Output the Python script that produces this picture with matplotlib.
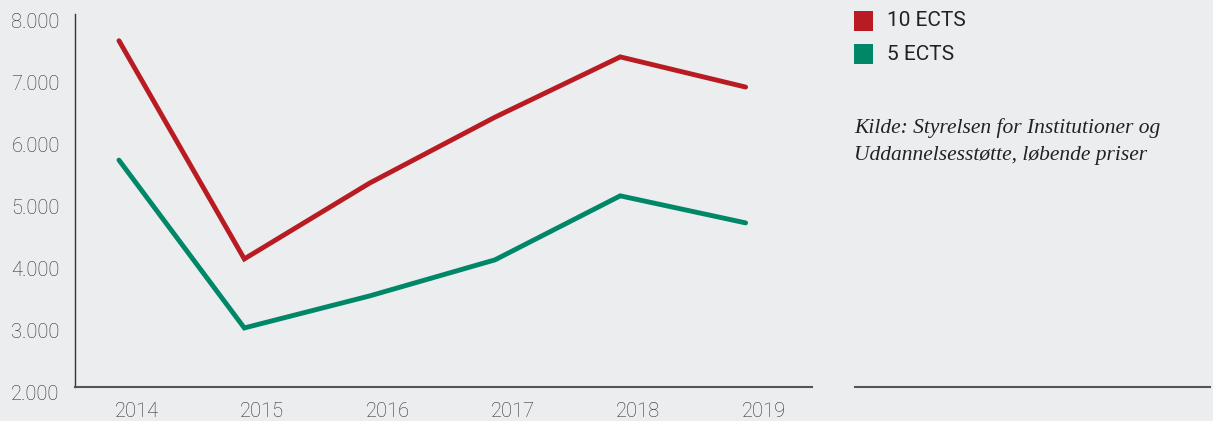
import matplotlib
matplotlib.use("Agg")
import matplotlib.pyplot as plt
import matplotlib.transforms as mtransforms
from matplotlib.lines import Line2D
from matplotlib.patches import Rectangle

years = ["2014", "2015", "2016", "2017", "2018", "2019"]
ects10 = [7570, 4060, 5280, 6340, 7310, 6825]
ects5 = [5650, 2950, 3465, 4045, 5075, 4640]
series_labels = ["10 ECTS", "5 ECTS"]
yticks = [2000, 3000, 4000, 5000, 6000, 7000, 8000]
source = "Kilde: Styrelsen for Institutioner og\nUddannelsesstøtte, løbende priser"

C_BG = "#ECEDEF"
C_RED = "#B81C22"
C_GREEN = "#008768"
W, H = 1213, 421

plt.rcParams["font.family"] = ["Roboto", "DejaVu Sans"]

fig = plt.figure(figsize=(W / 100, H / 100), dpi=100, facecolor=C_BG)
ax = fig.add_axes([75 / W, (H - 387) / H, (812 - 75) / W, (387 - 14) / H])
ax.set_facecolor(C_BG)

x = list(range(len(years)))
ax.plot(x, ects10, color=C_RED, lw=3.5, solid_capstyle="round", solid_joinstyle="miter")
ax.plot(x, ects5, color=C_GREEN, lw=3.5, solid_capstyle="round", solid_joinstyle="miter")

ax.set_xlim(-0.351, 5.53)
ax.set_ylim(2000, 8000)
ax.set_xticks(x)
ax.set_xticklabels(years)
ax.set_yticks(yticks)
ax.set_yticklabels([f"{v:,}".replace(",", ".") for v in yticks])
ax.tick_params(length=0, labelsize=14.5, colors="#2e2e2e")
ax.tick_params(axis="y", pad=11)
ax.tick_params(axis="x", pad=11)
for lbl in ax.get_xticklabels() + ax.get_yticklabels():
    lbl.set_fontweight("light")

# labels sit a bit off their data positions in the reference
for lbl in ax.get_xticklabels():
    lbl.set_transform(lbl.get_transform() + mtransforms.ScaledTranslation(18 / 100, 0, fig.dpi_scale_trans))
for lbl in ax.get_yticklabels():
    lbl.set_transform(lbl.get_transform() + mtransforms.ScaledTranslation(0, -6 / 100, fig.dpi_scale_trans))

for s in ["top", "right"]:
    ax.spines[s].set_visible(False)
ax.spines["left"].set_color("#333333")
ax.spines["left"].set_linewidth(1.0)
ax.spines["bottom"].set_color("#555555")
ax.spines["bottom"].set_linewidth(1.5)

# right-hand panel: legend, source and base line
fig.add_artist(Line2D([855 / W, 1210 / W], [(H - 387) / H] * 2, color="#555555", lw=1.5))
for i, (lab, col) in enumerate(zip(series_labels, [C_RED, C_GREEN])):
    yc = 21 + i * 33
    fig.add_artist(Rectangle((854 / W, (H - yc - 9.5) / H), 19 / W, 19 / H,
                             transform=fig.transFigure, color=col, lw=0))
    fig.text(887 / W, (H - yc) / H, lab, fontsize=15, color="#222222",
             va="center", ha="left")

fig.text(854 / W, (H - 118) / H, source, fontsize=15.5, style="italic",
         family=["Liberation Serif", "DejaVu Serif"], color="#222222",
         va="top", ha="left", linespacing=1.55)

fig.savefig("out.png", dpi=100, facecolor=C_BG)
